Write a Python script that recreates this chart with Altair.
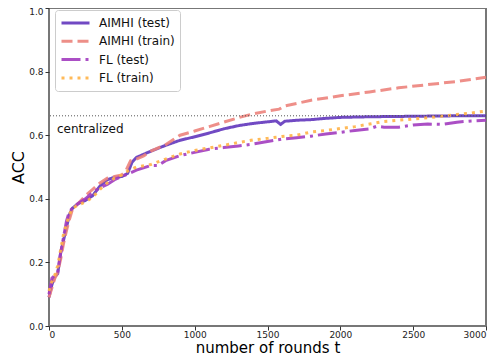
import altair as alt
import pandas as pd

series_names = ["AIMHI (test)", "AIMHI (train)", "FL (test)", "FL (train)"]
series_colors = ["#6236bd", "#ec837c", "#a23cbf", "#ffb347"]
series_dashes = [[1, 0], [11, 5], [19, 5, 3, 5], [3, 5]]

aimhi_test_t = [0, 20, 40, 60, 80, 100, 120, 140, 160, 200, 250, 300, 350, 400, 450, 500, 540, 570, 600, 700,
                800, 900, 1000, 1100, 1200, 1300, 1400, 1500, 1560, 1590, 1620, 1700, 1800, 1900, 2000, 2200,
                2400, 2600, 2800, 3000]
aimhi_test = [0.09, 0.13, 0.155, 0.165, 0.23, 0.27, 0.31, 0.35, 0.37, 0.385, 0.395, 0.41, 0.44, 0.46, 0.468,
              0.47, 0.48, 0.515, 0.53, 0.55, 0.568, 0.584, 0.595, 0.607, 0.62, 0.63, 0.637, 0.642, 0.645,
              0.634, 0.644, 0.647, 0.649, 0.653, 0.656, 0.658, 0.659, 0.66, 0.661, 0.661]

aimhi_train_t = [0, 20, 40, 60, 80, 100, 120, 140, 160, 200, 250, 300, 350, 400, 450, 500, 530, 560, 600, 650,
                 700, 800, 900, 1000, 1100, 1200, 1300, 1400, 1500, 1580, 1620, 1700, 1800, 2000, 2200, 2400,
                 2600, 2800, 3000]
aimhi_train = [0.09, 0.12, 0.15, 0.17, 0.21, 0.26, 0.30, 0.335, 0.365, 0.385, 0.41, 0.43, 0.45, 0.465, 0.47,
               0.475, 0.49, 0.52, 0.525, 0.535, 0.55, 0.57, 0.60, 0.613, 0.627, 0.641, 0.655, 0.667, 0.676,
               0.682, 0.692, 0.70, 0.71, 0.724, 0.736, 0.749, 0.759, 0.769, 0.782]

fl_test_t = [0, 20, 40, 60, 80, 100, 120, 140, 160, 200, 250, 300, 350, 400, 450, 500, 550, 600, 700, 750, 800,
             900, 1000, 1100, 1200, 1300, 1400, 1500, 1600, 1700, 1800, 1900, 2000, 2100, 2200, 2250, 2300,
             2400, 2500, 2600, 2700, 2800, 2900, 3000]
fl_test = [0.10, 0.15, 0.16, 0.17, 0.23, 0.28, 0.33, 0.36, 0.37, 0.385, 0.40, 0.42, 0.435, 0.445, 0.46, 0.47,
           0.48, 0.49, 0.505, 0.505, 0.52, 0.536, 0.546, 0.556, 0.561, 0.566, 0.572, 0.58, 0.588, 0.592,
           0.597, 0.604, 0.609, 0.615, 0.62, 0.628, 0.625, 0.625, 0.632, 0.635, 0.634, 0.641, 0.645, 0.647]

fl_train_t = [0, 20, 40, 60, 80, 100, 120, 140, 160, 200, 250, 300, 350, 400, 450, 500, 550, 600, 700, 800,
              900, 1000, 1100, 1200, 1300, 1400, 1500, 1600, 1700, 1800, 1900, 2000, 2100, 2200, 2300, 2400,
              2500, 2600, 2700, 2800, 2900, 3000]
fl_train = [0.11, 0.14, 0.16, 0.19, 0.24, 0.29, 0.32, 0.35, 0.37, 0.38, 0.39, 0.405, 0.43, 0.45, 0.465, 0.475,
            0.49, 0.50, 0.508, 0.525, 0.541, 0.552, 0.56, 0.568, 0.577, 0.585, 0.59, 0.596, 0.60, 0.61, 0.615,
            0.621, 0.627, 0.635, 0.643, 0.647, 0.651, 0.655, 0.66, 0.665, 0.67, 0.676]

centralized = 0.661
x_ticks = [0, 500, 1000, 1500, 2000, 2500, 3000]
y_ticks = [0.0, 0.2, 0.4, 0.6, 0.8, 1.0]

rows = []
for name, ts, vs in zip(series_names,
                        [aimhi_test_t, aimhi_train_t, fl_test_t, fl_train_t],
                        [aimhi_test, aimhi_train, fl_test, fl_train]):
    for i, (t, v) in enumerate(zip(ts, vs)):
        rows.append({"series": name, "t": t, "acc": v, "order": i})
df = pd.DataFrame(rows)

FONT = "DejaVu Sans"

lines = alt.Chart(df).mark_line(strokeWidth=3, opacity=0.9, strokeCap="butt").encode(
    x=alt.X("t:Q", scale=alt.Scale(domain=[0, 3000], nice=False),
            axis=alt.Axis(values=x_ticks, title="number of rounds t", format="d",
                          labelPadding=0, titleBaseline="alphabetic", titleY=26, titleFontSize=15)),
    y=alt.Y("acc:Q", scale=alt.Scale(domain=[0, 1], nice=False),
            axis=alt.Axis(values=y_ticks, format=".1f", title="ACC", labelPadding=2, titlePadding=2,
                          labelOffset={"condition": {"test": "datum.value >= 1", "value": 3}, "value": 0})),
    color=alt.Color("series:N", scale=alt.Scale(domain=series_names, range=series_colors),
                    legend=alt.Legend(title=None, orient="none", legendX=6, legendY=2,
                                      symbolType="stroke", symbolSize=784, symbolStrokeWidth=3,
                                      labelFont=FONT, labelFontSize=12, labelColor="#111",
                                      clipHeight=16, rowPadding=2.3, labelOffset=8,
                                      padding=5, fillColor="white", strokeColor="#cccccc",
                                      cornerRadius=3)),
    strokeDash=alt.StrokeDash("series:N", scale=alt.Scale(domain=series_names, range=series_dashes),
                              legend=None),
    order="order:Q",
)

ref_df = pd.DataFrame({"acc": [centralized], "label": ["centralized"]})
rule = alt.Chart(ref_df).mark_rule(color="#555555", strokeWidth=1, strokeDash=[1, 2]).encode(
    y="acc:Q"
)
label = alt.Chart(ref_df).mark_text(align="left", baseline="middle", font=FONT, fontSize=12,
                                    color="#111", dy=13).encode(
    x=alt.value(8), y="acc:Q", text="label:N"
)

chart = alt.layer(lines, rule, label).properties(
    width=437, height=318,
    autosize=alt.AutoSizeParams(type="none"),
    padding={"left": 41, "top": 0, "right": 1, "bottom": 30},
).configure_view(
    stroke="#777777", strokeWidth=2
).configure_axis(
    labelFont=FONT, labelFontSize=9, labelColor="#222",
    titleFont=FONT, titleFontSize=16, titleFontWeight="normal", titleColor="#000",
    domain=False, grid=False, tickColor="#333", tickSize=4, tickWidth=1
)

chart.save("out.html", embed_options={"renderer": "svg", "actions": False})
